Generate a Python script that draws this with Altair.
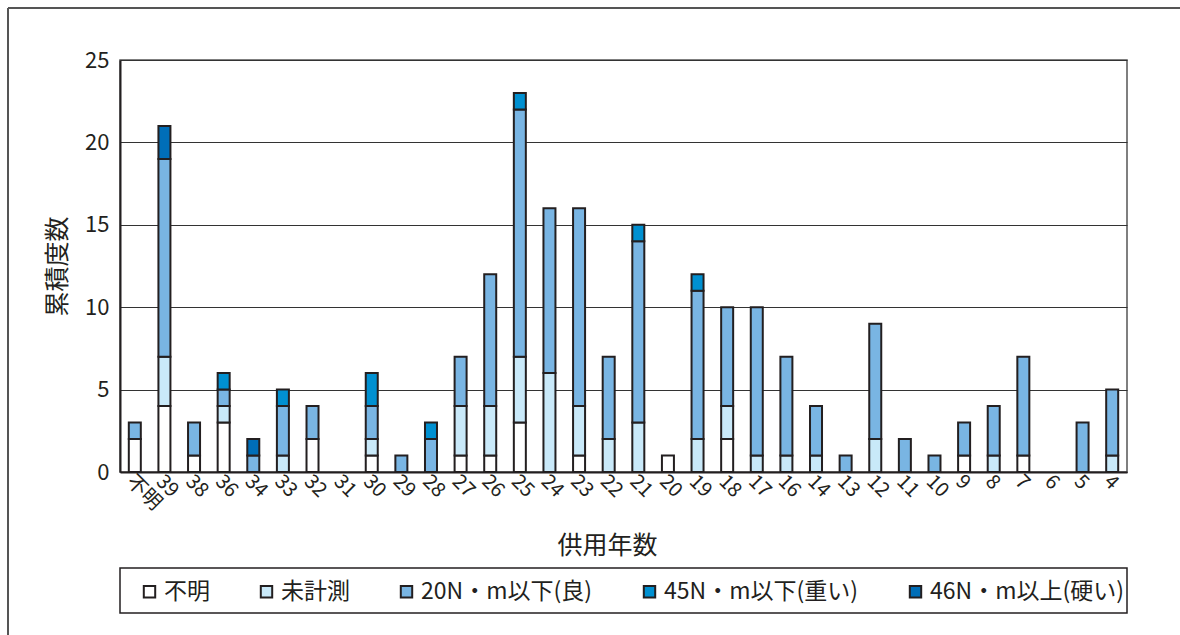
import altair as alt
import pandas as pd

# Service years (left to right) and counts per torque class
years = ["不明", "39", "38", "36", "34", "33", "32", "31", "30", "29", "28", "27",
         "26", "25", "24", "23", "22", "21", "20", "19", "18", "17", "16", "14",
         "13", "12", "11", "10", "9", "8", "7", "6", "5", "4"]

unknown    = [2, 4, 1, 3, 0, 0, 2, 0, 1, 0, 0, 1, 1, 3, 0, 1, 0, 0, 1, 0, 2, 0, 0, 0, 0, 0, 0, 0, 1, 0, 1, 0, 0, 0]
unmeasured = [0, 3, 0, 1, 0, 1, 0, 0, 1, 0, 0, 3, 3, 4, 6, 3, 2, 3, 0, 2, 2, 1, 1, 1, 0, 2, 0, 0, 0, 1, 0, 0, 0, 1]
good_20    = [1, 12, 2, 1, 1, 3, 2, 0, 2, 1, 2, 3, 8, 15, 10, 12, 5, 11, 0, 9, 6, 9, 6, 3, 1, 7, 2, 1, 2, 3, 6, 0, 3, 4]
heavy_45   = [0, 0, 0, 1, 0, 1, 0, 0, 2, 0, 1, 0, 0, 1, 0, 0, 0, 1, 0, 1, 0, 0, 0, 0, 0, 0, 0, 0, 0, 0, 0, 0, 0, 0]
hard_46    = [0, 2, 0, 0, 1, 0, 0, 0, 0, 0, 0, 0, 0, 0, 0, 0, 0, 0, 0, 0, 0, 0, 0, 0, 0, 0, 0, 0, 0, 0, 0, 0, 0, 0]

series_names = ["不明", "未計測", "20N・m以下(良)", "45N・m以下(重い)", "46N・m以上(硬い)"]
series_values = [unknown, unmeasured, good_20, heavy_45, hard_46]
series_colors = ["#FFFFFF", "#C9E9F9", "#79B5E3", "#0090D1", "#006EB8"]

rows = []
for s_idx, (name, vals) in enumerate(zip(series_names, series_values)):
    for year, v in zip(years, vals):
        if v > 0:
            rows.append({"year": year, "series": name, "order": s_idx, "count": v})
df = pd.DataFrame(rows)

FONT = "Noto Sans CJK JP"
INK = "#231F20"
W, H = 1007, 412

bars = alt.Chart(df).mark_bar(
    stroke=INK, strokeWidth=2, width=12
).encode(
    x=alt.X("year:N", sort=years, scale=alt.Scale(domain=years),
            axis=alt.Axis(title="供用年数", labelAngle=45, labelAlign="left",
                          labelBaseline="middle", labelFontSize=20, labelPadding=6,
                          labelOffset=-5,
                          ticks=False, domainColor=INK, domainWidth=2,
                          titleFontSize=25, titleFontWeight="normal",
                          titleX=487, titleY=73, titleBaseline="middle")),
    y=alt.Y("sum(count):Q", scale=alt.Scale(domain=[0, 25], nice=False),
            axis=alt.Axis(title="累積度数", values=[0, 5, 10, 15, 20, 25],
                          labelFontSize=22, labelPadding=11, ticks=False,
                          domainColor=INK, domainWidth=2,
                          gridColor="#333333", gridWidth=1.2,
                          titleFontSize=25, titleFontWeight="normal",
                          titleAngle=-90, titleX=-63, titleY=206,
                          titleAlign="center", titleBaseline="middle")),
    color=alt.Color("series:N", scale=alt.Scale(domain=series_names, range=series_colors),
                    legend=alt.Legend(title=None, orient="none", direction="horizontal",
                                      legendX=18, legendY=520, columnPadding=45,
                                      symbolType="square", symbolSize=130,
                                      symbolStrokeColor=INK, symbolStrokeWidth=2,
                                      labelFontSize=23, labelOffset=3, labelColor=INK,
                                      labelLimit=0)),
    order=alt.Order("order:Q", sort="ascending"),
)

one = pd.DataFrame({"k": [0]})

# legend frame under the plot
legend_box = alt.Chart(one).mark_rect(fill=None, stroke=INK, strokeWidth=1.5).encode(
    x=alt.value(0), x2=alt.value(W), y=alt.value(508), y2=alt.value(553)
)
# outer figure frame (top and left edges)
frame_top = alt.Chart(one).mark_rule(color="#555555", strokeWidth=2).encode(
    x=alt.value(-112), x2=alt.value(1060), y=alt.value(-52)
)
frame_left = alt.Chart(one).mark_rule(color="#555555", strokeWidth=2).encode(
    x=alt.value(-112), y=alt.value(-52), y2=alt.value(575)
)

chart = alt.layer(bars, legend_box, frame_top, frame_left).properties(
    width=W, height=H,
    autosize=alt.AutoSizeParams(type="none"),
    padding={"left": 120, "top": 60, "right": 53, "bottom": 163},
    background="#FFFFFF",
).configure(
    font=FONT,
).configure_axis(
    labelColor=INK, titleColor=INK, labelFont=FONT, titleFont=FONT,
).configure_legend(
    labelFont=FONT,
).configure_view(
    stroke="#555555", strokeWidth=1.5,
)

chart.save("out.html", embed_options={"renderer": "svg", "actions": False})
